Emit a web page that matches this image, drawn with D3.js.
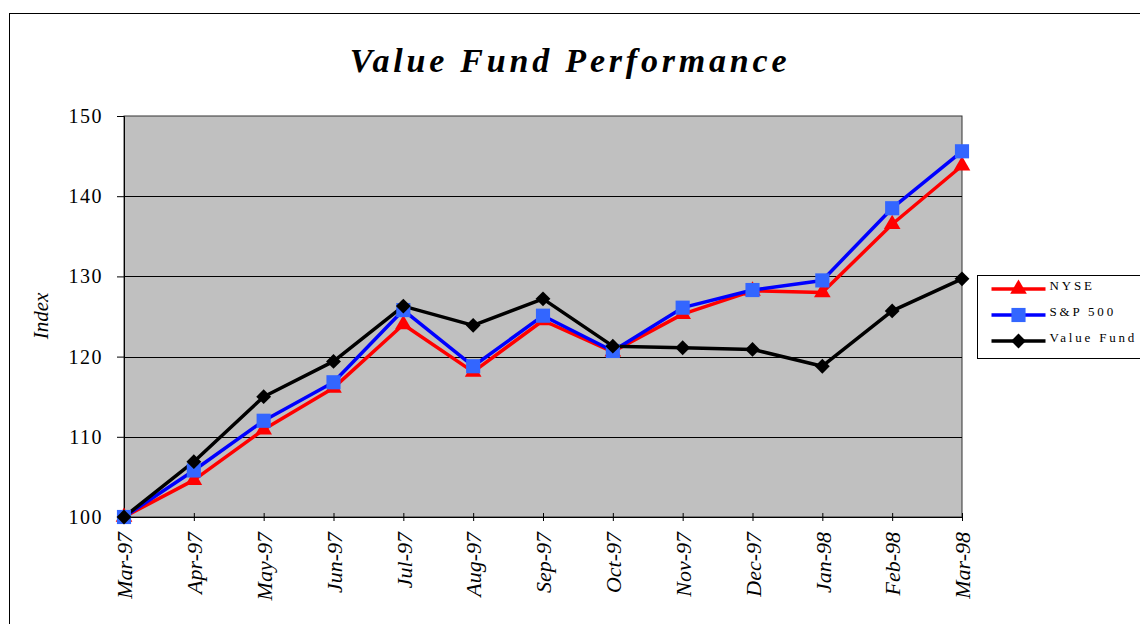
<!DOCTYPE html>
<html>
<head>
<meta charset="utf-8">
<script src="https://cdn.jsdelivr.net/npm/d3@7"></script>
<style>
  body { margin: 0; background: #fff; }
  svg { display: block; font-family: "Liberation Serif", "Times New Roman", serif; }
</style>
</head>
<body>
<svg id="chart" width="1140" height="624"></svg>
<script>
// data
var months = ['Mar-97','Apr-97','May-97','Jun-97','Jul-97','Aug-97','Sep-97',
              'Oct-97','Nov-97','Dec-97','Jan-98','Feb-98','Mar-98']
var nyse      = [100, 104.6, 110.9, 116.1, 124.0, 118.1, 124.5, 120.6, 125.3, 128.2, 128.0, 136.5, 143.8]
var sp500     = [100, 105.8, 112.0, 116.8, 125.8, 118.8, 125.1, 120.7, 126.1, 128.3, 129.5, 138.5, 145.6]
var valueFund = [100, 106.9, 115.0, 119.4, 126.3, 123.9, 127.2, 121.3, 121.1, 120.9, 118.8, 125.7, 129.7]
var yTicks = [100, 110, 120, 130, 140, 150]

var series = [
  {name: 'NYSE', values: nyse, line: '#ff0000', fill: '#ff0000', shape: d3.symbolTriangle, size: 120, rot: 0},
  {name: 'S&P 500', values: sp500, line: '#0000ff', fill: '#3366ff', shape: d3.symbolSquare, size: 200, rot: 0},
  {name: 'Value Fund', values: valueFund, line: '#000000', fill: '#000000', shape: d3.symbolSquare, size: 110, rot: 45}
]

var svg = d3.select('#chart')
var plot = {left: 124, top: 116, right: 962, bottom: 517}

// outer chart frame (runs off the right and bottom of the picture)
svg.append('rect')
  .attr('x', 9.5).attr('y', 13.5)
  .attr('width', 1160).attr('height', 640)
  .attr('fill', 'none').attr('stroke', '#000').attr('stroke-width', 1)

svg.append('text')
  .attr('x', 570).attr('y', 72)
  .attr('text-anchor', 'middle')
  .style('font-size', '34px').style('font-weight', 'bold').style('font-style', 'italic')
  .style('letter-spacing', '3.8px')
  .text('Value Fund Performance')

var x = d3.scalePoint()
  .domain(months)
  .range([plot.left, plot.right])

var y = d3.scaleLinear()
  .domain([100, 150])
  .range([plot.bottom, plot.top])

svg.append('rect')
  .attr('x', plot.left).attr('y', plot.top)
  .attr('width', plot.right - plot.left).attr('height', plot.bottom - plot.top)
  .attr('fill', '#c0c0c0').attr('stroke', '#333').attr('stroke-width', 1)

// gridlines
svg.append('g')
  .selectAll('line')
  .data(yTicks.slice(1, -1))
  .enter().append('line')
  .attr('x1', plot.left).attr('x2', plot.right)
  .attr('y1', function(d){return Math.round(y(d)) + 0.5})
  .attr('y2', function(d){return Math.round(y(d)) + 0.5})
  .attr('stroke', '#000').attr('stroke-width', 1)

// y axis
var yAxis = svg.append('g')
  .attr('transform', 'translate(' + plot.left + ',0)')
  .call(d3.axisLeft(y).tickValues(yTicks).tickSize(7).tickPadding(14))
  .attr('font-family', null).attr('font-size', null)
yAxis.select('.domain').attr('stroke', '#000')
yAxis.selectAll('text')
  .style('font-size', '20px').style('letter-spacing', '1.5px')
  .attr('fill', '#000')

svg.append('text')
  .attr('transform', 'translate(48,316) rotate(-90)')
  .attr('text-anchor', 'middle')
  .style('font-size', '21px').style('font-style', 'italic')
  .text('Index')

// x axis
var xAxis = svg.append('g')
  .attr('transform', 'translate(0,' + plot.bottom + ')')
  .call(d3.axisBottom(x).tickSizeInner(5).tickSizeOuter(0))
  .attr('font-family', null).attr('font-size', null)
xAxis.select('.domain').attr('stroke', '#000')
xAxis.selectAll('.tick line').attr('y1', -4).attr('y2', 4)
xAxis.selectAll('text')
  .attr('fill', '#000')
  .attr('transform', 'rotate(-90)')
  .attr('x', -15).attr('y', 0).attr('dy', '0.35em')
  .attr('text-anchor', 'end')
  .style('font-size', '22px').style('font-style', 'italic')

// lines and markers
var line = d3.line()
  .x(function(d, i){return x(months[i])})
  .y(function(d){return y(d)})

series.forEach(function(s){
  svg.append('path')
    .attr('d', line(s.values))
    .attr('fill', 'none')
    .attr('stroke', s.line)
    .attr('stroke-width', 3.5)
    .attr('stroke-linejoin', 'round')
})

series.forEach(function(s){
  svg.append('g')
    .selectAll('path')
    .data(s.values)
    .enter().append('path')
    .attr('transform', function(d, i){
      return 'translate(' + x(months[i]) + ',' + y(d) + ') rotate(' + s.rot + ')'})
    .attr('d', d3.symbol().type(s.shape).size(s.size))
    .attr('fill', s.fill)
})

// legend
var legend = svg.append('g').attr('transform', 'translate(977.5,275.5)')
legend.append('rect')
  .attr('width', 200).attr('height', 83)
  .attr('fill', '#fff').attr('stroke', '#000')

var rows = legend.selectAll('.row')
  .data(series)
  .enter().append('g').attr('class', 'row')
  .attr('transform', function(d, i){return 'translate(0,' + (13.5 + i * 26) + ')'})
rows.append('line')
  .attr('x1', 14).attr('x2', 68)
  .attr('stroke', function(d){return d.line})
  .attr('stroke-width', 3.5)
rows.append('path')
  .attr('transform', function(d){return 'translate(41,0) rotate(' + d.rot + ')'})
  .attr('d', function(d){return d3.symbol().type(d.shape).size(d.size)()})
  .attr('fill', function(d){return d.fill})
rows.append('text')
  .attr('x', 72).attr('y', 1)
  .style('font-size', '13px')
  .style('letter-spacing', '2.8px')
  .text(function(d){return d.name})
</script>
</body>
</html>
